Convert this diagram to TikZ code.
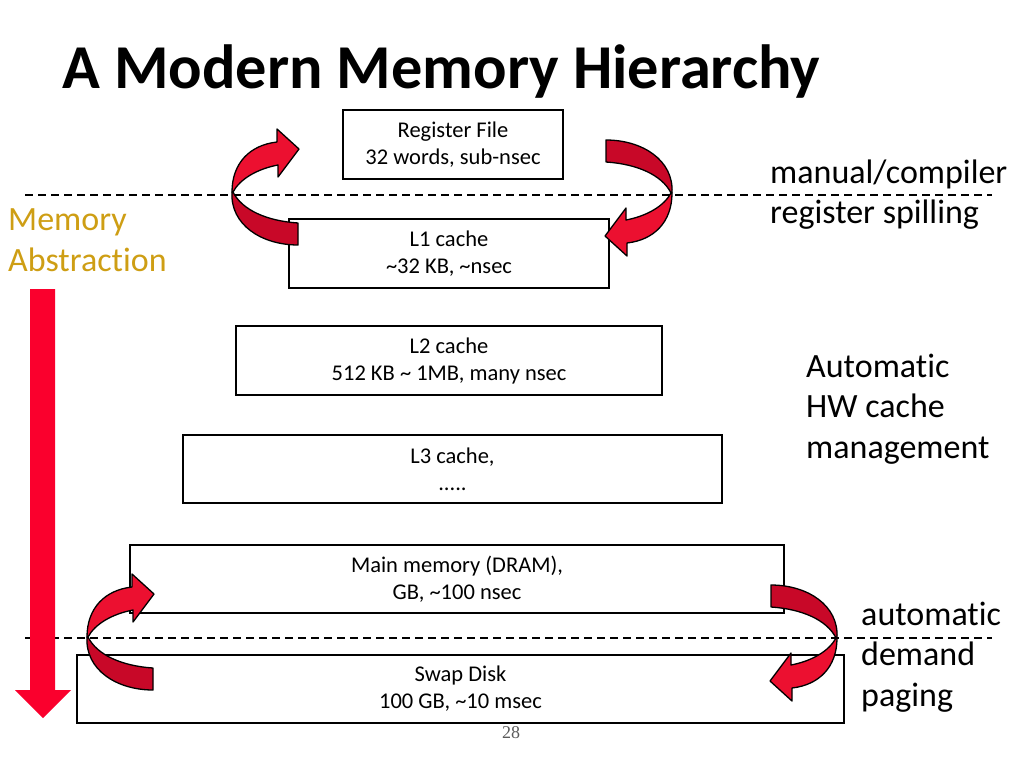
\documentclass[tikz,border=0pt]{standalone}
\usepackage{fontspec}
\setmainfont{Carlito}[Ligatures=NoCommon]
\newfontfamily\pagefont{Liberation Serif}
\definecolor{armlight}{RGB}{236,16,48}
\definecolor{armdark}{RGB}{200,8,40}
\definecolor{bigred}{RGB}{250,0,45}
\definecolor{gold}{RGB}{206,158,20}
\definecolor{pagegray}{RGB}{90,90,90}
\tikzset{
  level/.style={draw=black, line width=1.5pt, fill=white, rectangle, align=center,
    inner sep=0pt, font=\fontsize{22.5}{27}\selectfont},
  sidetext/.style={inner sep=0pt, align=left, anchor=west, font=\fontsize{34}{40.5}\selectfont},
  divider/.style={line width=1.4pt, dash pattern=on 8pt off 5pt},
  curl/.pic={
    \filldraw[fill=armdark, draw=black, line width=1.3pt, line join=round]
      (0,-3) .. controls (-2,30) and (30,50) .. (66,50) -- (66,28)
      .. controls (35,26) and (10,15) .. (1,-3) -- cycle;
    \filldraw[fill=armlight, draw=black, line width=1.3pt, line join=round]
      (0,-3) .. controls (0,-32) and (18,-50) .. (45,-53) -- (45,-66) -- (67,-46)
      -- (46,-18) -- (46,-30) .. controls (25,-26) and (8,-16) .. (1,-3) -- cycle;
  }
}
\begin{document}
\begin{tikzpicture}[x=1pt,y=-1pt]
\useasboundingbox (0,0) rectangle (1024,768);
% title
\node[anchor=base west, inner sep=0pt, font=\fontsize{62.4}{70}\selectfont\bfseries] (title) at (62,88) {A Modern Memory Hierarchy};
% dashed dividers
\coordinate (d1a) at (25,195); \coordinate (d1b) at (992,195);
\coordinate (d2a) at (25,638); \coordinate (d2b) at (992,638);
\draw[divider] (d1a) -- (d1b);
\draw[divider] (d2a) -- (d2b);
% levels
\node[level, minimum width=220pt, minimum height=69pt] (reg) at (453,144.5) {Register File\\32 words, sub-nsec};
\node[level, minimum width=320pt, minimum height=69pt] (l1) at (449,253.5) {L1 cache\\\textasciitilde 32 KB, \textasciitilde nsec};
\node[level, minimum width=426pt, minimum height=69pt] (l2) at (449,360.5) {L2 cache\\512 KB \textasciitilde{} 1MB, many nsec};
\node[level, minimum width=539pt, minimum height=68pt] (l3) at (452.5,469) {L3 cache,\\.....};
\node[level, minimum width=654pt, minimum height=68pt] (dram) at (457,579) {Main memory (DRAM),\\GB, \textasciitilde 100 nsec};
\node[level, minimum width=767pt, minimum height=68pt] (swap) at (460.5,689) {Swap Disk\\100 GB, \textasciitilde 10 msec};
% page number
\node[inner sep=0pt, text=pagegray, font=\pagefont\fontsize{18}{20}\selectfont] (pg) at (511,733) {28};
% side texts
\node[sidetext] (manual) at (770,194.5) {manual/compiler\\register spilling};
\node[sidetext] (autohw) at (806,409) {Automatic\\HW cache\\management};
\node[sidetext] (demand) at (861,657) {automatic\\demand\\paging};
\node[sidetext, text=gold] (abstr) at (8,240) {Memory\\Abstraction};
% big abstraction arrow
\fill[bigred] (30,289) -- (55,289) -- (55,690) -- (71,690) -- (43,718) -- (15,690) -- (30,690) -- cycle;
% curled arrows
\pic[shift={(232,195)}] {curl};
\pic[shift={(672,190)}, rotate=180] {curl};
\pic[shift={(87,640)}] {curl};
\pic[shift={(837,635)}, rotate=180] {curl};
\end{tikzpicture}
\end{document}
